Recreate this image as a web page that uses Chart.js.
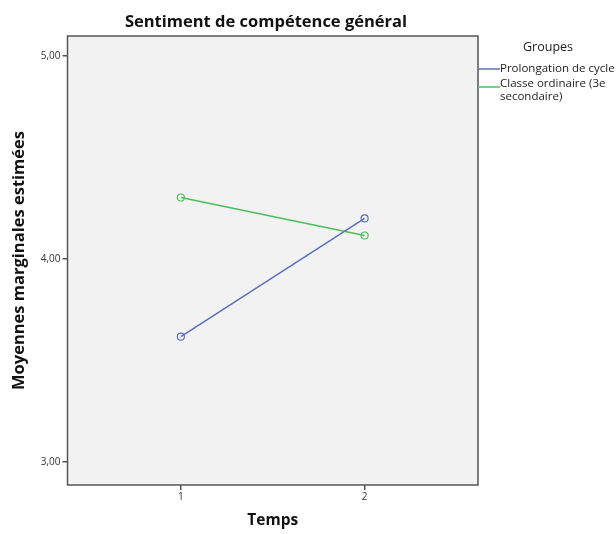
<!DOCTYPE html>
<html lang="fr">
<head>
    <meta charset="UTF-8">
    <title>Sentiment de compétence général</title>
    <script src="https://cdn.jsdelivr.net/npm/chart.js@4.4.0/dist/chart.umd.min.js"></script>
    <style>
        body { margin: 0; background: #fff; }
        #wrap { width: 616px; height: 534px; }
    </style>
</head>
<body>
<div id="wrap"><canvas id="myChart" width="616" height="534"></canvas></div>
<script>
    // data
    var temps = [1, 2];
    var prolongation = [3.617, 4.199];
    var classeOrdinaire = [4.302, 4.115];
    var yTicks = [3, 4, 5];
    var groupes = ["Prolongation de cycle", ["Classe ordinaire (3e", "secondaire)"]];

    var blue = '#5a70bf';
    var green = '#4cbf5a';
    var font = '"Open Sans", "DejaVu Sans", sans-serif';

    // background, frame, title and legend, drawn the SPSS way
    var spssLook = {
        id: 'spssLook',
        beforeDraw: function (chart) {
            var a = chart.chartArea, ctx = chart.ctx;
            ctx.save();
            ctx.fillStyle = '#f2f2f2';
            ctx.fillRect(a.left, a.top, a.right - a.left, a.bottom - a.top);
            ctx.restore();
        },
        afterDraw: function (chart) {
            var a = chart.chartArea, ctx = chart.ctx;
            ctx.save();
            ctx.strokeStyle = '#555';
            ctx.lineWidth = 1.5;
            ctx.strokeRect(a.left, a.top, a.right - a.left, a.bottom - a.top);

            ctx.fillStyle = '#111';
            ctx.textAlign = 'center';
            ctx.textBaseline = 'middle';
            ctx.font = 'bold 16.5px ' + font;
            ctx.fillText('Sentiment de compétence général', 266, 22);

            // legend
            ctx.font = '12.5px ' + font;
            ctx.fillStyle = '#222';
            ctx.fillText('Groupes', 548, 47);
            ctx.textAlign = 'left';
            ctx.font = '11.5px ' + font;
            var colors = [blue, green];
            var lineY = [69, 87];
            var textY = [[69], [84, 97]];
            for (var i = 0; i < groupes.length; i++) {
                ctx.strokeStyle = colors[i];
                ctx.lineWidth = 1.5;
                ctx.beginPath();
                ctx.moveTo(a.right, lineY[i]);
                ctx.lineTo(500, lineY[i]);
                ctx.stroke();
                var lines = [].concat(groupes[i]);
                for (var j = 0; j < lines.length; j++) {
                    ctx.fillText(lines[j], 500, textY[i][j]);
                }
            }
            ctx.restore();
        }
    };

    var ctx = document.getElementById('myChart').getContext('2d');
    var chart = new Chart(ctx, {
        type: 'line',
        data: {
            datasets: [{
                label: groupes[0],
                data: temps.map(function (t, i) { return { x: t, y: prolongation[i] }; }),
                borderColor: blue,
                backgroundColor: 'rgba(0,0,0,0)',
                borderWidth: 1.5,
                pointRadius: 3.5,
                pointBorderWidth: 1.2,
                pointBackgroundColor: 'rgba(0,0,0,0)'
            }, {
                label: 'Classe ordinaire (3e secondaire)',
                data: temps.map(function (t, i) { return { x: t, y: classeOrdinaire[i] }; }),
                borderColor: green,
                backgroundColor: 'rgba(0,0,0,0)',
                borderWidth: 1.5,
                pointRadius: 3.5,
                pointBorderWidth: 1.2,
                pointBackgroundColor: 'rgba(0,0,0,0)'
            }]
        },
        options: {
            responsive: false,
            animation: false,
            layout: { padding: { top: 36, right: 138, left: 0, bottom: 0 } },
            plugins: {
                legend: { display: false },
                title: { display: false },
                tooltip: { enabled: false }
            },
            scales: {
                x: {
                    type: 'linear',
                    min: 0.383,
                    max: 2.617,
                    afterFit: function (s) { s.height = 49; },
                    afterBuildTicks: function (s) {
                        s.ticks = temps.map(function (v) { return { value: v }; });
                    },
                    grid: { display: true, drawOnChartArea: false, drawTicks: true, tickLength: 5, color: '#555', lineWidth: 1.5 },
                    border: { display: false },
                    ticks: { color: '#333', font: { size: 10, family: font }, padding: 1 },
                    title: {
                        display: true, text: 'Temps', color: '#111',
                        font: { size: 15.5, weight: 'bold', family: font }, padding: { top: 14 }
                    }
                },
                y: {
                    min: 2.887,
                    max: 5.097,
                    afterFit: function (s) { s.width = 67.5; },
                    afterBuildTicks: function (s) {
                        s.ticks = yTicks.map(function (v) { return { value: v }; });
                    },
                    grid: { display: true, drawOnChartArea: false, drawTicks: true, tickLength: 5, color: '#555', lineWidth: 1.5 },
                    border: { display: false },
                    ticks: {
                        color: '#333', font: { size: 10, family: font }, padding: 2,
                        callback: function (v) { return v.toFixed(2).replace('.', ','); }
                    },
                    title: {
                        display: true, text: 'Moyennes marginales estimées', color: '#111',
                        font: { size: 16.5, weight: 'bold', family: font }, padding: { top: 9, bottom: 4 }
                    }
                }
            }
        },
        plugins: [spssLook]
    });
</script>
</body>
</html>
